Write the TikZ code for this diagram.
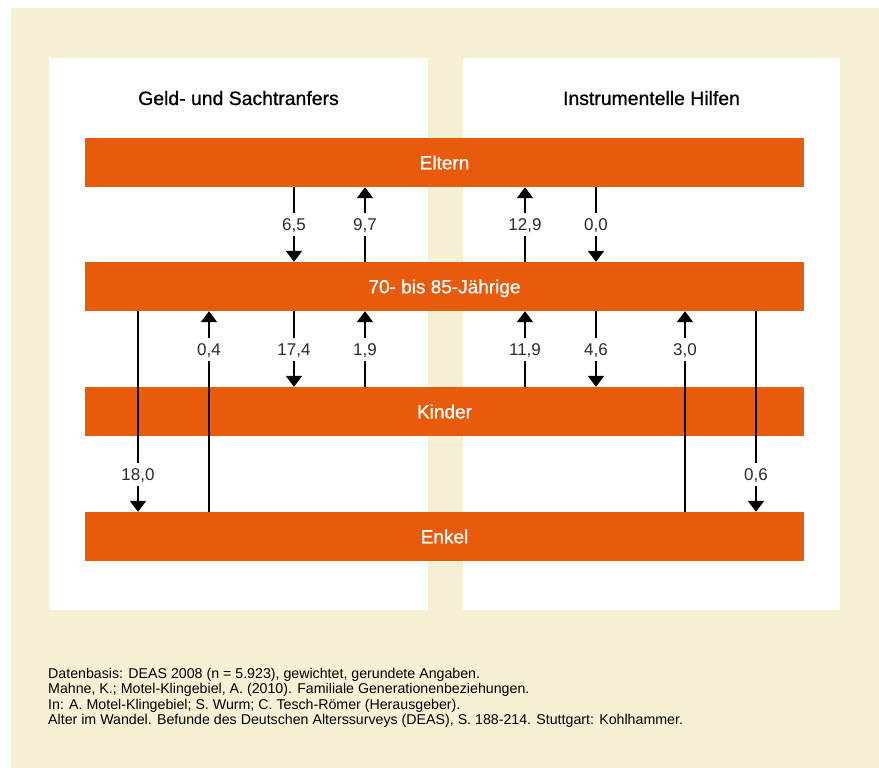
\documentclass[tikz,border=0pt]{standalone}
\usepackage{fontspec}
\setmainfont{Liberation Sans}
\newfontfamily\medfont{Liberation Sans}[FakeBold=0.8]
\usetikzlibrary{arrows.meta}
\definecolor{cream}{HTML}{F6F0D4}
\definecolor{barorange}{HTML}{E85A0C}
\definecolor{numgray}{HTML}{2B2B2B}

\begin{document}
\begin{tikzpicture}[x=1pt,y=-1pt,
  barbox/.style={fill=barorange, draw=none, minimum width=719pt, minimum height=49pt,
    inner sep=0pt, text=white, text height=13.6pt, text depth=0pt,
    font=\medfont\fontsize{19}{19}\selectfont},
  heading/.style={anchor=base, text=black, inner sep=0pt,
    font=\medfont\fontsize{19.4}{19.4}\selectfont},
  flow/.style={line width=1.8pt, draw=black, -{Triangle[width=16pt,length=11pt]}},
  val/.style={fill=white, text=numgray, inner xsep=2pt, inner ysep=5.4pt,
    text height=12.2pt, text depth=0pt, font=\fontsize{17}{17}\selectfont},
  note/.style={anchor=base west, align=left, inner sep=0pt, text=black,
    font=\fontsize{14.2}{15.5}\selectfont}
]
\useasboundingbox (0,0) rectangle (879,768);

% background and the two panels
\fill[cream] (11,8) rectangle (879,768);
\fill[white] (49,58) rectangle (428,610);
\fill[white] (463,58) rectangle (840,610);

% panel headings
\node[heading] (hleft) at (238.5,105) {Geld- und Sachtranfers};
\node[heading] (hright) at (651.5,105) {Instrumentelle Hilfen};

% generation bars
\node[barbox] (eltern) at (444.5,162.5) {Eltern};
\node[barbox] (alte)   at (444.5,286.5) {70- bis 85-Jährige};
\node[barbox] (kinder) at (444.5,411.5) {Kinder};
\node[barbox] (enkel)  at (444.5,536.5) {Enkel};

% columns of the transfer arrows
\coordinate (xa) at (138,0);
\coordinate (xb) at (209,0);
\coordinate (xc) at (294,0);
\coordinate (xd) at (365,0);
\coordinate (xe) at (525,0);
\coordinate (xf) at (596,0);
\coordinate (xg) at (685,0);
\coordinate (xh) at (756,0);

% Eltern <-> 70- bis 85-Jaehrige
\draw[flow] (eltern.south -| xc) -- node[val] (v65) {6,5} (alte.north -| xc);
\draw[flow] (alte.north -| xd) -- node[val] (v97) {9,7} (eltern.south -| xd);
\draw[flow] (alte.north -| xe) -- node[val] (v129) {12,9} (eltern.south -| xe);
\draw[flow] (eltern.south -| xf) -- node[val] (v00) {0,0} (alte.north -| xf);

% 70- bis 85-Jaehrige <-> Kinder
\draw[flow] (alte.south -| xc) -- node[val] (v174) {17,4} (kinder.north -| xc);
\draw[flow] (kinder.north -| xd) -- node[val] (v19) {1,9} (alte.south -| xd);
\draw[flow] (kinder.north -| xe) -- node[val] (v119) {11,9} (alte.south -| xe);
\draw[flow] (alte.south -| xf) -- node[val] (v46) {4,6} (kinder.north -| xf);

% 70- bis 85-Jaehrige <-> Enkel
\draw[flow] (alte.south -| xa) -- (enkel.north -| xa);
\path (kinder.south -| xa) -- node[val] (v180) {18,0} (enkel.north -| xa);
\draw[flow] (enkel.north -| xb) -- (alte.south -| xb);
\path (alte.south -| xb) -- node[val] (v04) {0,4} (kinder.north -| xb);
\draw[flow] (enkel.north -| xg) -- (alte.south -| xg);
\path (alte.south -| xg) -- node[val] (v30) {3,0} (kinder.north -| xg);
\draw[flow] (alte.south -| xh) -- (enkel.north -| xh);
\path (kinder.south -| xh) -- node[val] (v06) {0,6} (enkel.north -| xh);

% source note (anchored at the baseline of its last line)
\node[note] (quelle) at (48,724.5) {Datenbasis: DEAS 2008 (n = 5.923), gewichtet, gerundete Angaben.\\
Mahne, K.; Motel-Klingebiel, A. (2010). Familiale Generationenbeziehungen.\\
In: A. Motel-Klingebiel; S. Wurm; C. Tesch-Römer (Herausgeber).\\
Alter im Wandel. Befunde des Deutschen Alterssurveys (DEAS), S. 188-214. Stuttgart: Kohlhammer.};
\end{tikzpicture}
\end{document}
